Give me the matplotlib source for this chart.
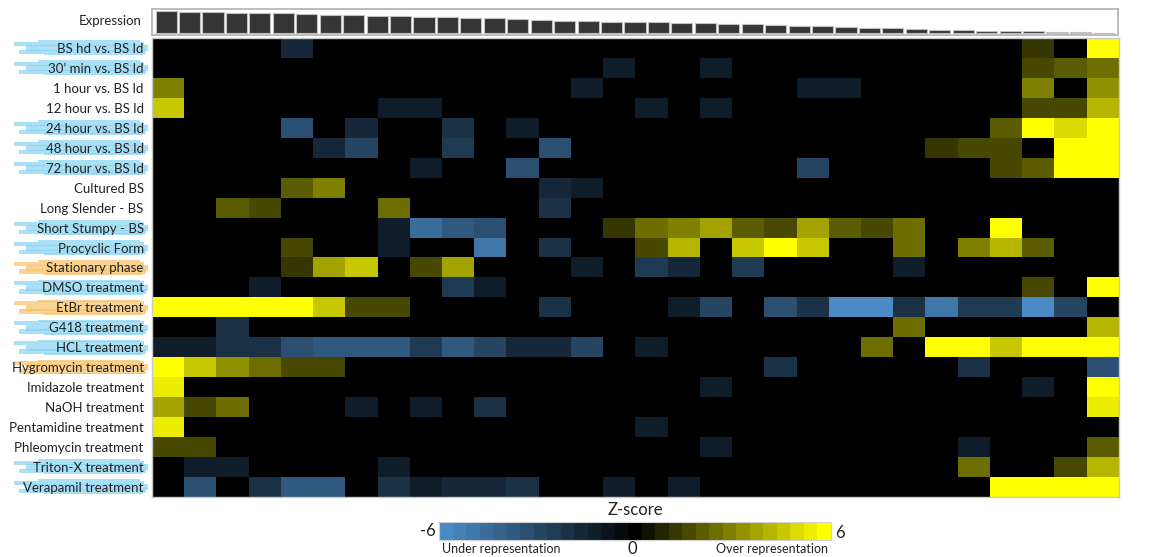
import matplotlib
matplotlib.use("Agg")
import matplotlib.pyplot as plt
import numpy as np
from matplotlib.colors import LinearSegmentedColormap
from matplotlib.patches import Rectangle
import matplotlib.transforms as mtransforms

plt.rcParams['font.family'] = ['Lato', 'DejaVu Sans']

W, H = 1152, 557

conditions = [
    "BS hd vs. BS ld", "30\u2019 min vs. BS ld", "1 hour vs. BS ld", "12 hour vs. BS ld",
    "24 hour vs. BS ld", "48 hour vs. BS ld", "72 hour vs. BS ld", "Cultured BS",
    "Long Slender - BS", "Short Stumpy - BS", "Procyclic Form", "Stationary phase",
    "DMSO treatment", "EtBr treatment", "G418 treatment", "HCL treatment",
    "Hygromycin treatment", "Imidazole treatment", "NaOH treatment",
    "Pentamidine treatment", "Phleomycin treatment", "Triton-X treatment",
    "Verapamil treatment",
]

# which labels carry a highlighter stroke
highlight = {0: 'blue', 1: 'blue', 4: 'blue', 5: 'blue', 6: 'blue', 9: 'blue',
             10: 'blue', 11: 'orange', 12: 'blue', 13: 'orange', 14: 'blue',
             15: 'blue', 16: 'orange', 21: 'blue', 22: 'blue'}

# non-zero z-scores per row: {column: value}
zscore_cells = [
    {4: -1.7, 27: 1.4, 29: 5.6},
    {14: -1.2, 17: -1.2, 27: 1.8, 28: 2.0, 29: 2.5},
    {0: 2.9, 13: -1.2, 20: -1.2, 21: -1.2, 27: 2.9, 29: 3.3},
    {0: 4.5, 7: -1.3, 8: -1.3, 15: -1.2, 17: -1.2, 27: 1.8, 28: 1.8, 29: 4.0},
    {4: -3.2, 6: -1.8, 9: -2.1, 11: -1.2, 26: 2.2, 27: 6, 28: 5.0, 29: 6},
    {5: -1.8, 6: -3.1, 9: -2.6, 12: -3.4, 24: 1.4, 25: 1.7, 26: 1.5, 28: 6, 29: 6},
    {8: -1.1, 11: -3.3, 20: -3.0, 26: 1.5, 27: 2.2, 28: 5.6, 29: 6},
    {4: 2.1, 5: 2.9, 12: -1.6, 13: -1.3},
    {2: 2.1, 3: 1.5, 7: 2.5, 12: -2.0},
    {7: -1.2, 8: -4.6, 9: -3.7, 10: -3.2, 14: 1.4, 15: 2.5, 16: 3.0, 17: 3.6,
     18: 2.0, 19: 1.8, 20: 3.7, 21: 2.0, 22: 1.8, 23: 2.5, 26: 6},
    {4: 1.8, 7: -1.2, 10: -5.0, 12: -2.1, 15: 1.5, 16: 4.1, 18: 4.4, 19: 6,
     20: 4.4, 23: 2.5, 25: 2.9, 26: 4.0, 27: 2.1},
    {4: 1.3, 5: 3.8, 6: 4.5, 8: 1.8, 9: 3.8, 13: -1.3, 15: -2.6, 16: -1.7,
     18: -2.6, 23: -1.3},
    {3: -1.1, 9: -2.6, 10: -1.2, 27: 1.8, 29: 6},
    {0: 6, 1: 6, 2: 6, 3: 6, 4: 6, 5: 4.7, 6: 1.5, 7: 1.5, 12: -2.1, 16: -1.3,
     17: -3.0, 19: -3.2, 20: -2.1, 21: -5.7, 22: -5.7, 23: -2.1, 24: -5.0,
     25: -2.3, 26: -2.6, 27: -5.6, 28: -2.7},
    {2: -1.9, 23: 2.5, 29: 4.0},
    {0: -1.4, 1: -1.4, 2: -2.0, 3: -2.1, 4: -3.2, 5: -3.7, 6: -3.7, 7: -3.7,
     8: -2.6, 9: -3.6, 10: -2.9, 11: -1.8, 12: -1.5, 13: -2.9, 15: -1.3,
     22: 2.5, 24: 5.8, 25: 6, 26: 4.4, 27: 6, 28: 6, 29: 6},
    {0: 6, 1: 4.4, 2: 3.3, 3: 2.3, 4: 1.8, 5: 1.5, 19: -2.0, 25: -2.0, 29: -3.2},
    {0: 5.3, 17: -1.2, 27: -1.1, 29: 6},
    {0: 3.8, 1: 1.8, 2: 2.3, 6: -1.4, 8: -1.1, 10: -2.0, 29: 5.2},
    {0: 5.3, 15: -1.3},
    {0: 1.5, 1: 1.8, 17: -1.2, 25: -1.1, 29: 2.1},
    {1: -1.4, 2: -1.2, 7: -1.1, 25: 2.5, 28: 1.5, 29: 4.0},
    {1: -3.4, 3: -2.1, 4: -3.6, 5: -3.6, 7: -2.1, 8: -1.2, 9: -1.7, 10: -1.5,
     11: -2.1, 14: -1.4, 16: -1.2, 26: 6, 27: 6, 28: 6, 29: 6},
]
n_cols = 30

# expression bar heights (top strip)
expression = [22.3, 21.6, 21.0, 20.6, 20.0, 20.0, 19.3, 18.3, 18.0, 17.6, 17.3,
              16.6, 16.0, 15.0, 15.0, 14.3, 13.3, 12.6, 12.3, 11.6, 11.3, 11.0,
              10.6, 10.0, 9.3, 9.0, 8.3, 7.6, 7.3, 6.6, 5.6, 5.0, 4.3, 3.6, 3.3,
              2.6, 2.3, 2.0, 1.6, 1.3, 0.6]

Z = np.zeros((len(conditions), n_cols))
for r, cells in enumerate(zscore_cells):
    for c, v in cells.items():
        Z[r, c] = v

cmap = LinearSegmentedColormap.from_list('bky', ['#4a8bc5', '#000000', '#ffff00'], N=29)


def box(x0, y0, x1, y1):
    return [x0 / W, 1 - y1 / H, (x1 - x0) / W, (y1 - y0) / H]


fig = plt.figure(figsize=(W / 100, H / 100), dpi=100)

# heatmap
ax = fig.add_axes(box(152, 38, 1119, 497))
im = ax.imshow(Z, cmap=cmap, vmin=-6, vmax=6, aspect='auto', interpolation='nearest')
ax.set_xticks([])
ax.set_yticks(range(len(conditions)))
ax.set_yticklabels(conditions, fontsize=9.5, color='#222222')
ax.tick_params(axis='y', length=0, pad=6)
for s in ax.spines.values():
    s.set_color('#c8c8c8')
    s.set_linewidth(1)

# highlighter strokes behind labels (x start, x end in px, row offset, height)
trans = mtransforms.blended_transform_factory(fig.transFigure, ax.transData)
stroke_colors = {'blue': '#86d3f3', 'orange': '#f8c063'}
strokes = [(14, 144, -0.30, 0.20), (26, 148, -0.14, 0.30), (19, 146, 0.10, 0.22),
           (38, 140, -0.38, 0.10), (44, 143, 0.28, 0.08)]
for r, kind in highlight.items():
    for x0, x1, dy, h in strokes:
        ax.add_patch(Rectangle((x0 / W, r + dy), (x1 - x0) / W, h, transform=trans,
                               facecolor=stroke_colors[kind], edgecolor='none',
                               alpha=0.7, clip_on=False, zorder=1))

# expression strip
ex = fig.add_axes(box(152, 9, 1118, 35))
ex.bar(range(len(expression)), expression, width=0.9, color='#353535',
       edgecolor='#c0c0c0', linewidth=0.8)
ex.set_xlim(-0.6, len(expression) - 0.4)
ex.set_ylim(-1.6, 24.4)
ex.set_xticks([])
ex.set_yticks([])
for s in ex.spines.values():
    s.set_color('#b0b0b0')
    s.set_linewidth(1.2)
fig.text(142 / W, 1 - 21 / H, 'Expression', ha='right', va='center',
         fontsize=9.5, color='#222222')

# colour bar
cax = fig.add_axes(box(439, 522, 831, 540))
cb = fig.colorbar(im, cax=cax, orientation='horizontal')
cb.set_ticks([])
cb.outline.set_edgecolor('#d0d0d0')
cb.outline.set_linewidth(0.8)

fig.text(635 / W, 1 - 510 / H, 'Z-score', ha='center', va='center', fontsize=12, color='#222222')
fig.text(436 / W, 1 - 531 / H, '-6', ha='right', va='center', fontsize=12, color='#222222')
fig.text(835 / W, 1 - 533 / H, '6', ha='left', va='center', fontsize=12, color='#222222')
fig.text(501 / W, 1 - 549 / H, 'Under representation', ha='center', va='center',
         fontsize=9, color='#222222')
fig.text(632 / W, 1 - 549 / H, '0', ha='center', va='center', fontsize=12, color='#222222')
fig.text(772 / W, 1 - 549 / H, 'Over representation', ha='center', va='center',
         fontsize=9, color='#222222')

fig.savefig('out.png', dpi=100)
